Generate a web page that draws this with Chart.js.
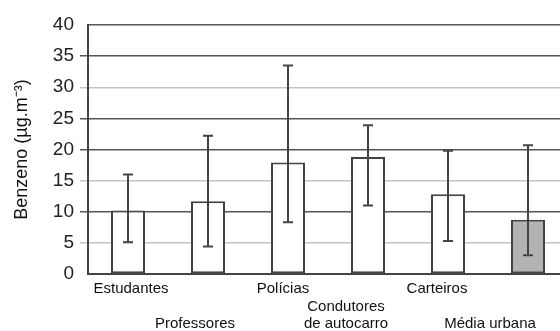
<!DOCTYPE html>
<html>
<head>
<meta charset="utf-8">
<script src="https://cdn.jsdelivr.net/npm/chart.js@4.4.1/dist/chart.umd.min.js"></script>
<style>
  html, body { margin: 0; padding: 0; background: #fff; width: 560px; height: 331px; overflow: hidden; }
  canvas { display: block; }
</style>
</head>
<body>
<canvas id="chart" width="568" height="331"></canvas>
<script>
// Benzene exposure by group: mean with min/max range
const categories = ['Estudantes', 'Professores', 'Polícias', ['Condutores', 'de autocarro'], 'Carteiros', 'Média urbana'];
const meanValues = [10.2, 11.7, 17.9, 18.8, 12.8, 8.7];
const rangeLow   = [5.1, 4.4, 8.3, 11.0, 5.3, 3.0];
const rangeHigh  = [16.0, 22.2, 33.5, 23.9, 19.8, 20.7];
const yTickValues = [0, 5, 10, 15, 20, 25, 30, 35, 40];

// presentation
const barFills = ['#ffffff', '#ffffff', '#ffffff', '#ffffff', '#ffffff', '#b3b3b3'];
const labelRow = [0, 2, 0, 1, 0, 2];
const labelShift = [3, -13, -5, -22, -11, -38];
const darkGrid = new Set([0, 10, 20, 25, 35, 40]);
const ink = '#444444';

const rangeBars = {
  id: 'rangeBars',
  afterDatasetsDraw(chart) {
    const { ctx } = chart;
    const y = chart.scales.y;
    const meta = chart.getDatasetMeta(0);
    ctx.save();
    ctx.strokeStyle = ink;
    ctx.lineWidth = 2;
    meta.data.forEach((bar, i) => {
      const x = Math.round(bar.x);
      const yHi = y.getPixelForValue(rangeHigh[i]);
      const yLo = y.getPixelForValue(rangeLow[i]);
      ctx.beginPath();
      ctx.moveTo(x, yHi); ctx.lineTo(x, yLo);
      ctx.moveTo(x - 5, yHi); ctx.lineTo(x + 5, yHi);
      ctx.moveTo(x - 5, yLo); ctx.lineTo(x + 5, yLo);
      ctx.stroke();
    });
    ctx.restore();
  }
};

const groupLabels = {
  id: 'groupLabels',
  afterDraw(chart) {
    const { ctx, chartArea } = chart;
    const xs = chart.scales.x;
    ctx.save();
    ctx.font = '15px "Liberation Sans", Arial, sans-serif';
    ctx.fillStyle = '#111';
    ctx.textAlign = 'center';
    ctx.textBaseline = 'middle';
    categories.forEach((lab, i) => {
      const lines = Array.isArray(lab) ? lab : [lab];
      const x = xs.getPixelForValue(i) + labelShift[i];
      lines.forEach((t, k) => {
        const yy = chartArea.bottom + 15 + (labelRow[i] + k) * 17.5;
        ctx.fillText(t, x, yy);
      });
    });
    ctx.restore();
  }
};

new Chart(document.getElementById('chart'), {
  type: 'bar',
  data: {
    labels: categories,
    datasets: [{
      data: meanValues,
      backgroundColor: barFills,
      borderColor: ink,
      borderWidth: 2,
      borderSkipped: false,
      categoryPercentage: 1,
      barPercentage: 0.425
    }]
  },
  options: {
    responsive: false,
    animation: false,
    layout: { padding: { top: 25, left: 0, right: 0, bottom: 0 } },
    plugins: { legend: { display: false }, tooltip: { enabled: false } },
    scales: {
      x: {
        grid: { display: false },
        border: { display: true, color: ink, width: 2 },
        ticks: { display: false },
        afterFit: s => { s.height = 57; }
      },
      y: {
        min: 0,
        max: 40,
        afterBuildTicks: s => { s.ticks = yTickValues.map(v => ({ value: v })); },
        ticks: {
          padding: 6,
          color: '#222',
          font: { family: '"Liberation Sans", Arial, sans-serif', size: 19 }
        },
        grid: {
          tickLength: 8,
          lineWidth: 1.5,
          color: c => darkGrid.has(c.tick.value) ? '#555' : '#c4c4c4',
          tickColor: c => (c.tick.value === 0 || c.tick.value === 40) ? 'rgba(0,0,0,0)' :
            (darkGrid.has(c.tick.value) ? '#555' : '#c4c4c4')
        },
        border: { display: true, color: ink, width: 2 },
        title: {
          display: true,
          text: 'Benzeno (µg.m⁻³)',
          color: '#111',
          padding: { top: 11, bottom: 0 },
          font: { family: '"Liberation Sans", Arial, sans-serif', size: 18 }
        },
        afterFit: s => { s.width = 88; }
      }
    }
  },
  plugins: [rangeBars, groupLabels]
});
</script>
</body>
</html>
